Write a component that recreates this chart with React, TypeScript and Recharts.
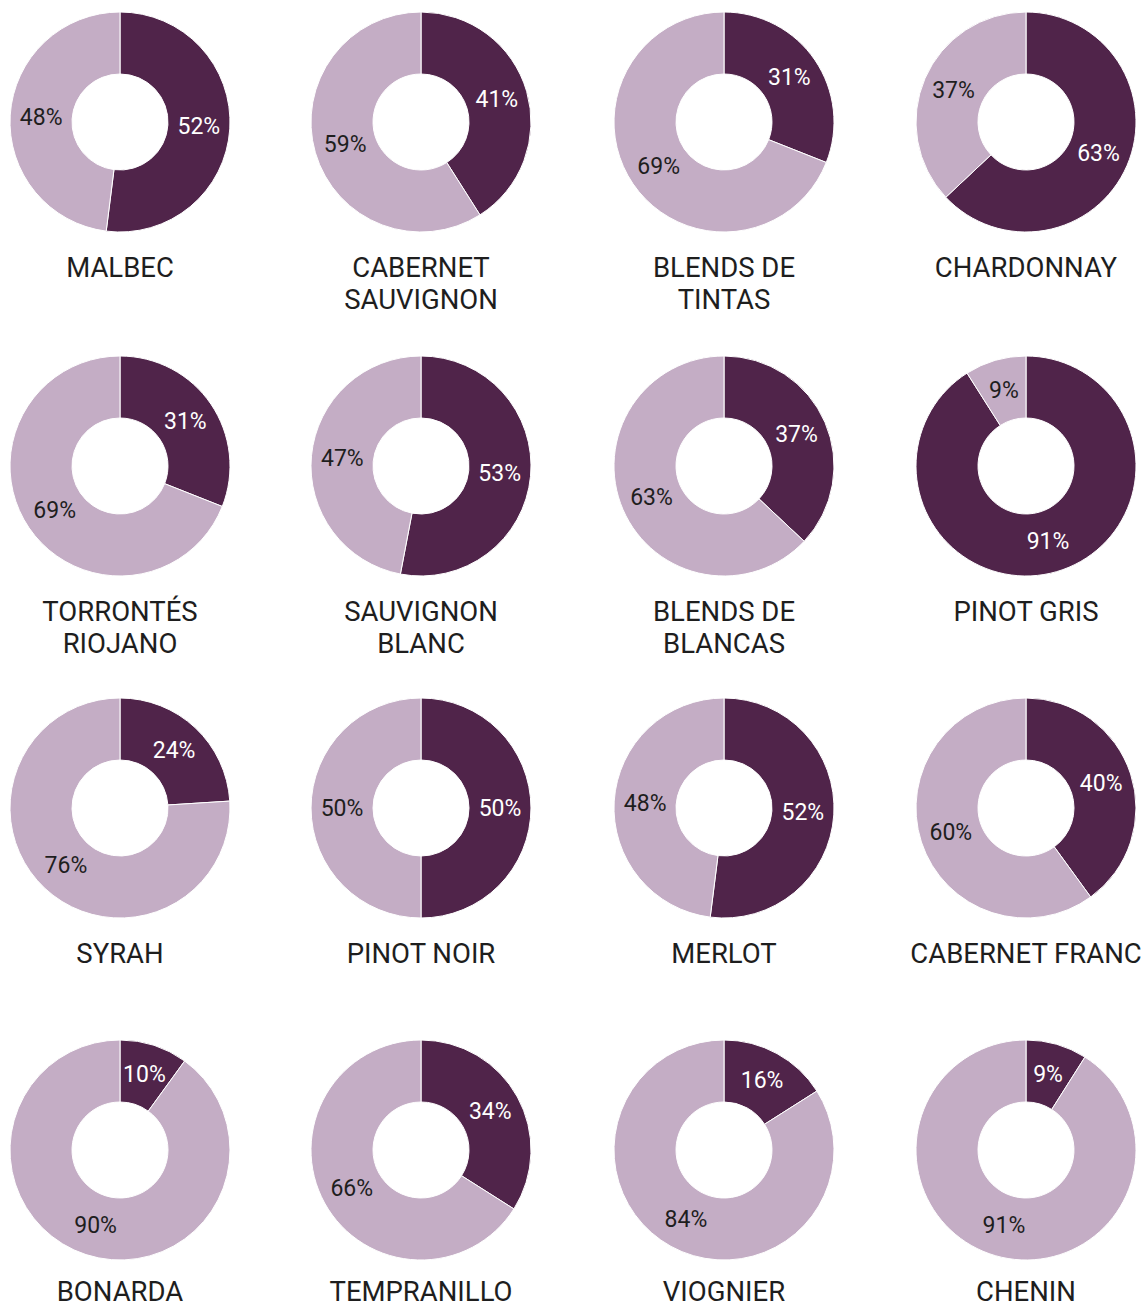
import { PieChart, Pie, Cell } from "recharts"

const varieties = [
  "MALBEC",
  "CABERNET\nSAUVIGNON",
  "BLENDS DE\nTINTAS",
  "CHARDONNAY",
  "TORRONTÉS\nRIOJANO",
  "SAUVIGNON\nBLANC",
  "BLENDS DE\nBLANCAS",
  "PINOT GRIS",
  "SYRAH",
  "PINOT NOIR",
  "MERLOT",
  "CABERNET FRANC",
  "BONARDA",
  "TEMPRANILLO",
  "VIOGNIER",
  "CHENIN",
]

// share of the dark slice (drawn first, clockwise from 12 o'clock)
const darkShare = [52, 41, 31, 63, 31, 53, 37, 91, 24, 50, 52, 40, 10, 34, 16, 9]
// share of the light slice
const lightShare = [48, 59, 69, 37, 69, 47, 63, 9, 76, 50, 48, 60, 90, 66, 84, 91]

const DARK = "#50244a"
const LIGHT = "#c4adc5"
const COL_X = [120, 421, 724, 1026]
const ROW_Y = [122, 466, 808, 1150]
const RADIAN = Math.PI / 180

const renderLabel = (props: any) => {
  const { cx, cy, midAngle, innerRadius, outerRadius, value, index } = props
  const r = (innerRadius + outerRadius) / 2
  const x = cx + r * Math.cos(-midAngle * RADIAN)
  const y = cy + r * Math.sin(-midAngle * RADIAN)
  return (
    <text
      x={x}
      y={y}
      fill={index === 0 ? "#ffffff" : "#1e1e1e"}
      textAnchor="middle"
      dominantBaseline="central"
      fontSize={23}
      fontFamily="Roboto"
    >
      {`${value}%`}
    </text>
  )
}

function Donut({ idx }: { idx: number }) {
  const data = [
    { name: "dark", value: darkShare[idx] },
    { name: "light", value: lightShare[idx] },
  ]
  const row = Math.floor(idx / 4)
  const cx = COL_X[idx % 4]
  const cy = ROW_Y[row]
  const twoLines = varieties[idx].includes("\n")
  // last row sits on the page edge, nudge its titles up a little
  const lift = row === 3 ? 4 : 0
  return (
    <div style={{ position: "absolute", left: cx - 150, top: cy - 120, width: 300 }}>
      <PieChart width={300} height={240} margin={{ top: 0, right: 0, bottom: 0, left: 0 }}>
        <Pie
          data={data}
          dataKey="value"
          cx={150}
          cy={120}
          innerRadius={48}
          outerRadius={110}
          startAngle={90}
          endAngle={-270}
          stroke="#ffffff"
          strokeWidth={1}
          label={renderLabel}
          labelLine={false}
          isAnimationActive={false}
        >
          <Cell fill={DARK} />
          <Cell fill={LIGHT} />
        </Pie>
      </PieChart>
      {/* title: first line centred ~146px under the donut centre */}
      <div
        style={{
          marginTop: (twoLines ? 10 : 14) - lift,
          textAlign: "center",
          fontSize: 27.5,
          lineHeight: twoLines ? "32px" : "24px",
          color: "#1e1e1e",
          whiteSpace: "pre-line",
        }}
      >
        {varieties[idx]}
      </div>
    </div>
  )
}

export default function App() {
  return (
    <div
      style={{
        position: "absolute",
        top: 0,
        left: 0,
        width: 1146,
        height: 1309,
        overflow: "hidden",
        background: "#ffffff",
        fontFamily: "Roboto",
      }}
    >
      {varieties.map((_, i) => (
        <Donut key={i} idx={i} />
      ))}
    </div>
  )
}
